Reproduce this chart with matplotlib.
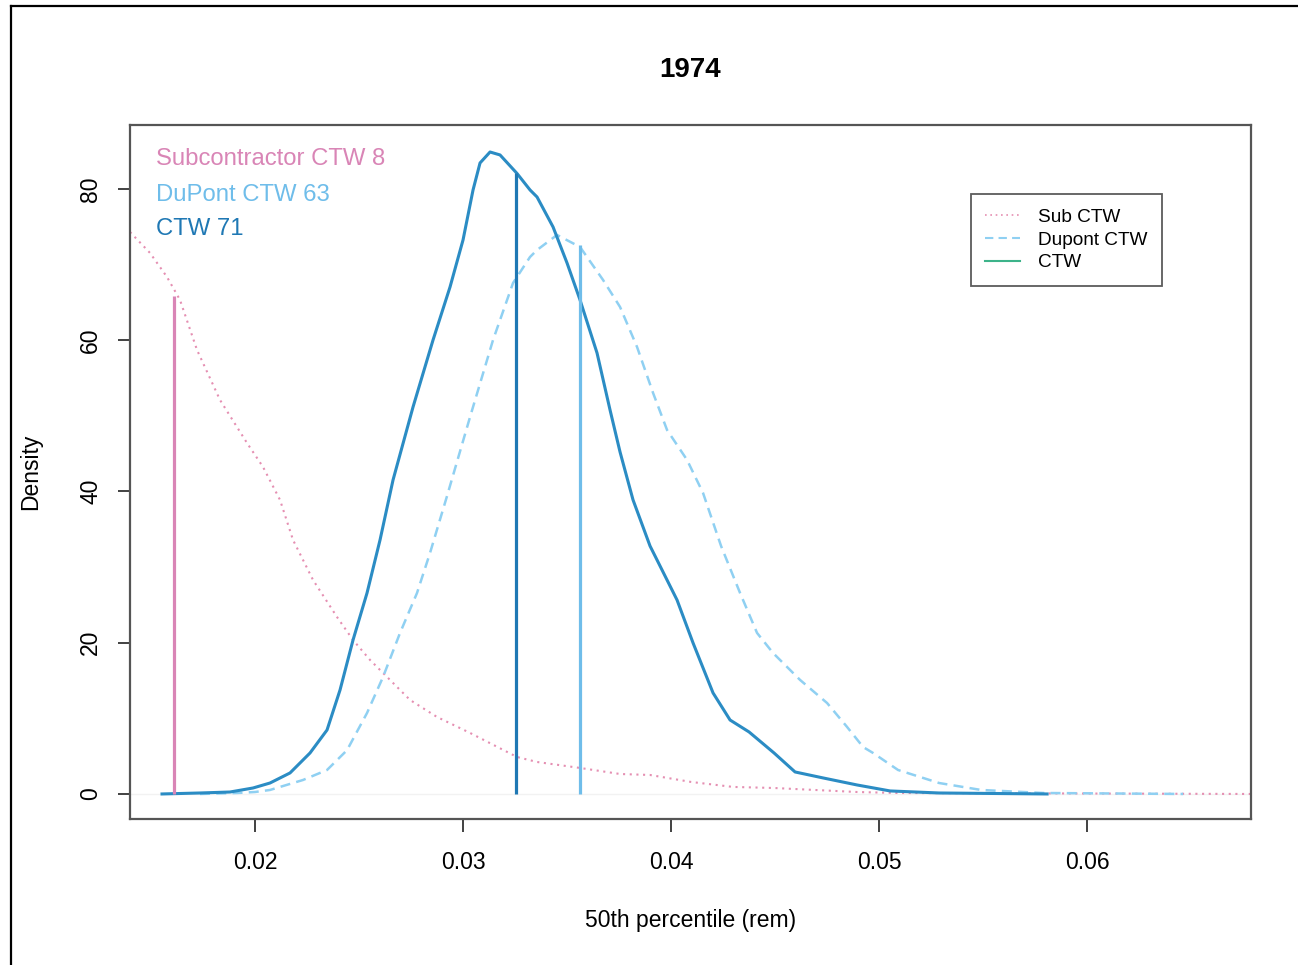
import numpy as np
import matplotlib
matplotlib.use('Agg')
import matplotlib.pyplot as plt
from matplotlib.lines import Line2D

plt.rcParams['font.family'] = ['Liberation Sans', 'DejaVu Sans']

# density curves
ctw_x = [0.015529, 0.017356, 0.018798, 0.019904, 0.020721, 0.021683, 0.022644, 0.023462,
         0.024087, 0.024712, 0.025385, 0.026010, 0.026635, 0.027596, 0.028558, 0.029375,
         0.030000, 0.030481, 0.030817, 0.031298, 0.031779, 0.032596, 0.033221, 0.033558,
         0.034327, 0.035000, 0.035625, 0.036442, 0.037067, 0.037548, 0.038173, 0.038990,
         0.039327, 0.040288, 0.041058, 0.042019, 0.042837, 0.043750, 0.044952, 0.045962,
         0.047308, 0.048942, 0.050529, 0.052885, 0.058077]
ctw_y = [0.0, 0.13, 0.26, 0.79, 1.45, 2.78, 5.42, 8.46,
         13.75, 20.36, 26.58, 33.59, 41.52, 51.17, 60.03, 67.04,
         73.26, 79.87, 83.44, 84.89, 84.50, 82.05, 79.87, 78.94,
         74.98, 70.21, 65.32, 58.31, 50.78, 45.22, 38.88, 32.79,
         30.94, 25.65, 19.97, 13.36, 9.78, 8.20, 5.42, 2.91,
         2.12, 1.19, 0.40, 0.13, 0.0]

dupont_x = [0.017356, 0.019135, 0.020000, 0.020721, 0.022308, 0.023462, 0.024423, 0.025385,
            0.026154, 0.026971, 0.027788, 0.028413, 0.029231, 0.030337, 0.031442, 0.032404,
            0.033221, 0.033558, 0.034519, 0.035625, 0.036731, 0.037548, 0.038365, 0.039135,
            0.039808, 0.040769, 0.041538, 0.042404, 0.043317, 0.044135, 0.044904, 0.046202,
            0.047500, 0.048462, 0.049231, 0.049712, 0.050913, 0.052885, 0.054904, 0.057885,
            0.064615]
dupont_y = [0.0, 0.13, 0.26, 0.53, 1.85, 3.17, 5.79, 10.71,
            15.47, 21.29, 26.58, 31.87, 39.40, 49.85, 60.03, 67.57,
            71.01, 71.93, 73.92, 72.33, 67.97, 64.40, 59.11, 53.03,
            48.13, 44.17, 39.80, 32.79, 26.58, 21.29, 18.64, 15.08,
            12.03, 8.86, 6.21, 5.42, 3.17, 1.45, 0.53, 0.13,
            0.0]

sub_x = [0.013990, 0.014952, 0.015769, 0.016394, 0.017212, 0.018317, 0.019615, 0.020385,
         0.021202, 0.021827, 0.022788, 0.023942, 0.024712, 0.025529, 0.026490, 0.027452,
         0.028750, 0.030337, 0.032596, 0.033558, 0.035625, 0.037548, 0.038990, 0.040962,
         0.042981, 0.044952, 0.048942, 0.050913, 0.067885]
sub_y = [74.31, 71.54, 68.36, 65.32, 58.71, 52.10, 46.41, 43.24,
         38.88, 33.59, 28.30, 23.40, 20.36, 17.72, 15.08, 12.43,
         10.18, 8.07, 4.89, 4.23, 3.44, 2.64, 2.51, 1.59,
         0.93, 0.79, 0.26, 0.13, 0.0]

# vertical marker lines: Sub, DuPont, CTW
vline_x = [0.016106, 0.035625, 0.032548]
vline_top = [65.85, 72.6, 82.1]
vline_col = ['#d985b6', '#6fbdea', '#1f78b4']

notes = ['Subcontractor CTW 8', 'DuPont CTW 63', 'CTW 71']
note_col = ['#d985b6', '#6fbdea', '#1f78b4']
note_y = [0.951, 0.899, 0.850]

W, H = 1298, 965
fig = plt.figure(figsize=(W / 100, H / 100), dpi=100)
ax = fig.add_axes([130 / W, 1 - 819 / H, 1121 / W, 694 / H])

ax.axhline(0, color='#f2f2f2', lw=1, zorder=0)
ax.plot(sub_x, sub_y, color='#e58fb2', lw=1.5, ls=(0, (1, 2.2)))
ax.plot(dupont_x, dupont_y, color='#8fd0f2', lw=1.8, ls=(0, (4, 2.5)),
        dash_joinstyle='round')
ax.plot(ctw_x, ctw_y, color='#2b8cc4', lw=2.2, solid_joinstyle='round')
for x, t, c in zip(vline_x, vline_top, vline_col):
    ax.vlines(x, 0, t, color=c, lw=2.3)

ax.set_xlim(0.01399, 0.06788)
ax.set_ylim(-3.31, 88.46)
ax.set_xticks([0.02, 0.03, 0.04, 0.05, 0.06])
ax.set_xticklabels(['0.02', '0.03', '0.04', '0.05', '0.06'])
ax.set_yticks([0, 20, 40, 60, 80])
ax.tick_params(axis='both', direction='out', length=9, width=1.3, color='#333333',
               labelsize=16.5)
ax.tick_params(axis='x', pad=14)
ax.tick_params(axis='y', pad=11)
for lab in ax.get_yticklabels():
    lab.set_rotation(90)
    lab.set_va('center')
for s in ax.spines.values():
    s.set_color('#555555')
    s.set_linewidth(1.6)

ax.set_xlabel('50th percentile (rem)', fontsize=16.5, labelpad=25.5)
ax.set_ylabel('Density', fontsize=16.5, labelpad=26.5)
fig.text(690 / W, 1 - 70 / H, '1974', ha='center', va='center', fontsize=20, fontweight='bold')

for t, c, yy in zip(notes, note_col, note_y):
    ax.text(0.0232, yy, t, color=c, fontsize=17.2,
            transform=ax.transAxes, va='center', ha='left')

handles = [Line2D([], [], color='#e58fb2', lw=1.2, ls=(0, (1, 2.2))),
           Line2D([], [], color='#8fd0f2', lw=1.5, ls=(0, (4, 2.5))),
           Line2D([], [], color='#3db38a', lw=1.5)]
leg = ax.legend(handles, ['Sub CTW', 'Dupont CTW', 'CTW'], loc='upper left',
                bbox_to_anchor=(0.750, 0.9006), fontsize=13.7, frameon=True, fancybox=False,
                handlelength=1.8, handletextpad=0.95, labelspacing=0.28, borderpad=0.77,
                borderaxespad=0)
leg.get_frame().set_edgecolor('#333333')
leg.get_frame().set_linewidth(1.3)

# outer frame (left and top edges visible)
fig.add_artist(Line2D([11 / W, 11 / W], [0, 1 - 6 / H], color='black', lw=1.6))
fig.add_artist(Line2D([11 / W, 1], [1 - 6 / H, 1 - 6 / H], color='black', lw=1.6))

fig.savefig('out.png', dpi=100, facecolor='white')
